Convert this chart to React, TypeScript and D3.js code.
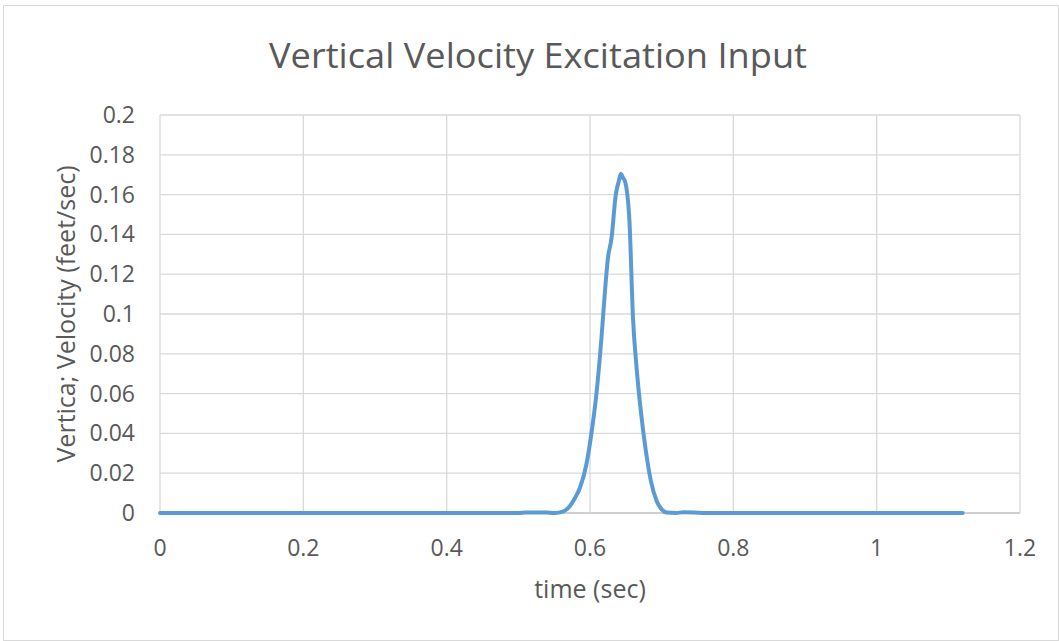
import React from "react";
import * as d3 from "d3";

// Excitation pulse samples: time (sec) and vertical velocity (feet/sec)
const times: number[] = [
  0, 0.1, 0.2, 0.3, 0.4, 0.5, 0.51, 0.52, 0.53, 0.54, 0.55, 0.558, 0.565, 0.572, 0.579, 0.586,
  0.595, 0.602, 0.609, 0.616, 0.621, 0.625, 0.630, 0.636, 0.640, 0.643, 0.646, 0.649, 0.655,
  0.660, 0.665, 0.671, 0.678, 0.685, 0.693, 0.700, 0.707, 0.72, 0.73, 0.745, 0.76, 0.8, 0.9,
  1.0, 1.12,
];
const velocities: number[] = [
  0, 0, 0, 0, 0, 0, 0.0003, 0.0003, 0.0003, 0.0002, 0, 0.0003, 0.0012, 0.0035, 0.0075, 0.0127,
  0.0245, 0.040, 0.060, 0.088, 0.112, 0.128, 0.138, 0.160, 0.1665, 0.1705, 0.1685, 0.1665, 0.147,
  0.098, 0.073, 0.051, 0.031, 0.016, 0.006, 0.0018, 0.0002, 0, 0.0004, 0.0003, 0, 0, 0,
  0, 0,
];
const xTicks: number[] = [0, 0.2, 0.4, 0.6, 0.8, 1, 1.2];
const yTicks: number[] = [0, 0.02, 0.04, 0.06, 0.08, 0.1, 0.12, 0.14, 0.16, 0.18, 0.2];

const titleText = "Vertical Velocity Excitation Input";
const xTitle = "time (sec)";
const yTitle = "Vertica; Velocity (feet/sec)";

const W = 1059;
const H = 641;
const plot = { left: 160, right: 1020, top: 115, bottom: 513 };
const FONT = "'Open Sans', 'Noto Sans', sans-serif";
const TEXT = "#595959";

export default function App() {
  const x = d3.scaleLinear().domain([0, 1.2]).range([plot.left, plot.right]);
  const y = d3.scaleLinear().domain([0, 0.2]).range([plot.bottom, plot.top]);
  const pts: [number, number][] = times.map((t, i) => [t, velocities[i]]);
  const line = d3
    .line<[number, number]>()
    .x((d) => x(d[0]))
    .y((d) => y(d[1]))
    .curve(d3.curveMonotoneX);

  return (
    <svg
      width={W}
      height={H}
      style={{ position: "absolute", left: 0, top: 0, background: "#fff" }}
    >
      <rect x={3.5} y={5.5} width={W - 4} height={H - 6} fill="#fff" stroke="#d9d9d9" />
      <text
        x={538}
        y={68}
        textAnchor="middle"
        fontFamily={FONT}
        fontSize={34}
        fill={TEXT}
        textLength={538}
        lengthAdjust="spacingAndGlyphs"
      >
        {titleText}
      </text>
      {yTicks.map((v) => (
        <line
          key={"gy" + v}
          x1={plot.left}
          x2={plot.right}
          y1={y(v)}
          y2={y(v)}
          stroke={v === 0 ? "#bfbfbf" : "#d9d9d9"}
          strokeWidth={1.3}
        />
      ))}
      {xTicks.map((v) => (
        <line
          key={"gx" + v}
          x1={x(v)}
          x2={x(v)}
          y1={plot.top}
          y2={plot.bottom}
          stroke="#d9d9d9"
          strokeWidth={1.3}
        />
      ))}
      {yTicks.map((v) => (
        <text
          key={"ty" + v}
          x={135}
          y={y(v) + 8}
          textAnchor="end"
          fontFamily={FONT}
          fontSize={23}
          fill={TEXT}
        >
          {String(v)}
        </text>
      ))}
      {xTicks.map((v) => (
        <text
          key={"tx" + v}
          x={x(v)}
          y={556}
          textAnchor="middle"
          fontFamily={FONT}
          fontSize={23}
          fill={TEXT}
        >
          {String(v)}
        </text>
      ))}
      <text x={590} y={598} textAnchor="middle" fontFamily={FONT} fontSize={25} fill={TEXT}>
        {xTitle}
      </text>
      <text
        transform={`translate(75, ${314}) rotate(-90)`}
        textAnchor="middle"
        fontFamily={FONT}
        fontSize={25}
        fill={TEXT}
      >
        {yTitle}
      </text>
      <path
        d={line(pts) || ""}
        fill="none"
        stroke="#5b9bd5"
        strokeWidth={4}
        strokeLinejoin="round"
        strokeLinecap="round"
      />
    </svg>
  );
}
